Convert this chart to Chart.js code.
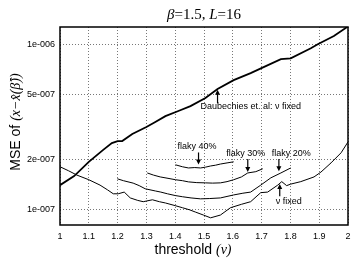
<!DOCTYPE html>
<html>
<head>
<meta charset="utf-8">
<script src="https://cdn.jsdelivr.net/npm/chart.js@4/dist/chart.umd.min.js"></script>
<style>
  html, body { margin: 0; padding: 0; background: #fff; }
  #wrap { width: 358px; height: 258px; }
</style>
</head>
<body>
<div id="wrap"><canvas id="mseChart" width="358" height="258"></canvas></div>
<script>
// threshold values and MSE
const daubX = [1.0, 1.049, 1.10, 1.15, 1.18, 1.20, 1.216, 1.251, 1.30, 1.331, 1.366, 1.411, 1.453, 1.505, 1.547, 1.603, 1.662, 1.707, 1.767, 1.801, 1.871, 1.895, 1.951, 2.0];
const daubY = [1.41e-7, 1.60e-7, 1.95e-7, 2.30e-7, 2.53e-7, 2.60e-7, 2.60e-7, 2.87e-7, 3.16e-7, 3.39e-7, 3.68e-7, 3.95e-7, 4.23e-7, 4.73e-7, 5.36e-7, 6.07e-7, 6.69e-7, 7.27e-7, 8.12e-7, 8.22e-7, 9.45e-7, 1.0e-6, 1.12e-6, 1.28e-6];

const fixedX = [1.0, 1.03, 1.059, 1.10, 1.139, 1.165, 1.185, 1.202, 1.223, 1.244, 1.27, 1.289, 1.321, 1.345, 1.366, 1.40, 1.425, 1.45, 1.470, 1.498, 1.523, 1.557, 1.592, 1.63, 1.662, 1.697, 1.721, 1.756, 1.770, 1.787, 1.801, 1.836, 1.882, 1.906, 1.941, 1.976, 2.0];
const fixedY = [1.82e-7, 1.72e-7, 1.62e-7, 1.52e-7, 1.41e-7, 1.32e-7, 1.25e-7, 1.25e-7, 1.28e-7, 1.18e-7, 1.14e-7, 1.12e-7, 1.15e-7, 1.12e-7, 1.10e-7, 1.06e-7, 1.03e-7, 1.00e-7, 0.97e-7, 0.93e-7, 0.895e-7, 0.93e-7, 1.03e-7, 1.08e-7, 1.12e-7, 1.27e-7, 1.28e-7, 1.41e-7, 1.48e-7, 1.40e-7, 1.43e-7, 1.48e-7, 1.58e-7, 1.69e-7, 1.92e-7, 2.21e-7, 2.57e-7];

const flaky20X = [1.199, 1.22, 1.254, 1.275, 1.296, 1.331, 1.35, 1.373, 1.40, 1.425, 1.455, 1.488, 1.52, 1.557, 1.603, 1.635, 1.662, 1.697, 1.732, 1.767, 1.801];
const flaky20Y = [1.54e-7, 1.50e-7, 1.45e-7, 1.40e-7, 1.34e-7, 1.30e-7, 1.28e-7, 1.25e-7, 1.22e-7, 1.20e-7, 1.18e-7, 1.165e-7, 1.17e-7, 1.18e-7, 1.23e-7, 1.26e-7, 1.28e-7, 1.41e-7, 1.56e-7, 1.67e-7, 1.79e-7];

const flaky30X = [1.303, 1.325, 1.348, 1.375, 1.401, 1.425, 1.446, 1.475, 1.505, 1.53, 1.557, 1.58, 1.603, 1.63, 1.652, 1.68, 1.704];
const flaky30Y = [1.67e-7, 1.62e-7, 1.58e-7, 1.55e-7, 1.52e-7, 1.50e-7, 1.475e-7, 1.46e-7, 1.455e-7, 1.45e-7, 1.455e-7, 1.48e-7, 1.52e-7, 1.58e-7, 1.67e-7, 1.70e-7, 1.77e-7];

const flaky40X = [1.401, 1.425, 1.446, 1.468, 1.488, 1.505, 1.523, 1.54, 1.557, 1.58, 1.603];
const flaky40Y = [1.87e-7, 1.82e-7, 1.79e-7, 1.80e-7, 1.79e-7, 1.81e-7, 1.84e-7, 1.86e-7, 1.89e-7, 1.92e-7, 1.95e-7];

const yTickVals = [1e-7, 2e-7, 5e-7, 1e-6];
const yTickText = ['1e-007', '2e-007', '5e-007', '1e-006'];

// labels with arrows: [text, textX, textY, arrowX, tailY, tipY]
const notes = [
  ['Daubechies et. al: \u03bd fixed', 1.488, 4.05e-7, 1.547, 4.40e-7, 5.30e-7],
  ['flaky 40%', 1.476, 2.33e-7, 1.481, 2.22e-7, 1.88e-7],
  ['flaky 30%', 1.645, 2.12e-7, 1.652, 2.03e-7, 1.69e-7],
  ['flaky 20%', 1.803, 2.12e-7, 1.760, 2.03e-7, 1.71e-7],
  ['\u03bd fixed', 1.794, 1.08e-7, 1.763, 1.21e-7, 1.43e-7]
];

function pts(xs, ys) {
  return xs.map((x, i) => ({ x: x, y: ys[i] }));
}

function line(data, w) {
  return {
    data: data,
    borderColor: '#000',
    borderWidth: w,
    pointRadius: 0,
    tension: 0,
    fill: false
  };
}

const extras = {
  id: 'extras',
  afterDraw(chart) {
    const ctx = chart.ctx;
    const a = chart.chartArea;
    const xs = chart.scales.x, ys = chart.scales.y;
    ctx.save();
    // frame
    ctx.strokeStyle = '#000';
    ctx.lineWidth = 1.5;
    ctx.strokeRect(a.left, a.top, a.right - a.left, a.bottom - a.top);

    // title
    ctx.fillStyle = '#000';
    ctx.textBaseline = 'alphabetic';
    ctx.textAlign = 'left';
    const parts = [['italic 15px "Liberation Serif"', '\u03b2'], ['15px "Liberation Serif"', '=1.5, '], ['italic 15px "Liberation Serif"', 'L'], ['15px "Liberation Serif"', '=16']];
    let tw = 0;
    parts.forEach(p => { ctx.font = p[0]; tw += ctx.measureText(p[1]).width; });
    let tx = 204 - tw / 2;
    parts.forEach(p => { ctx.font = p[0]; ctx.fillText(p[1], tx, 19); tx += ctx.measureText(p[1]).width; });

    // x axis title
    ctx.textAlign = 'left';
    const xt1 = 'threshold ';
    ctx.font = '14px "Liberation Sans"';
    const w1 = ctx.measureText(xt1).width;
    ctx.font = 'italic 14px "Liberation Serif"';
    const w2 = ctx.measureText('(\u03bd)').width;
    let x0 = 193 - (w1 + w2) / 2;
    ctx.font = '14px "Liberation Sans"';
    ctx.fillText(xt1, x0, 254);
    ctx.font = 'italic 14px "Liberation Serif"';
    ctx.fillText('(\u03bd)', x0 + w1, 254);

    // y axis title
    ctx.save();
    ctx.translate(20, 122);
    ctx.rotate(-Math.PI / 2);
    ctx.font = '14px "Liberation Sans"';
    const y1 = 'MSE of ';
    const yw1 = ctx.measureText(y1).width;
    ctx.font = 'italic 14px "Liberation Serif"';
    const y2 = '(x\u2212x\u0302(\u03b2\u0302))';
    const yw2 = ctx.measureText(y2).width;
    let sx = -(yw1 + yw2) / 2;
    ctx.font = '14px "Liberation Sans"';
    ctx.fillText(y1, sx, 0);
    ctx.font = 'italic 14px "Liberation Serif"';
    ctx.fillText(y2, sx + yw1, 0);
    ctx.restore();

    // annotations
    ctx.font = '9px "Liberation Sans"';
    ctx.lineWidth = 1.2;
    notes.forEach((n, i) => {
      const px = xs.getPixelForValue(n[1]);
      const py = ys.getPixelForValue(n[2]);
      ctx.textAlign = i === 0 ? 'left' : 'center';
      ctx.fillText(n[0], px, py);
      const ax = xs.getPixelForValue(n[3]);
      const t0 = ys.getPixelForValue(n[4]);
      const t1 = ys.getPixelForValue(n[5]);
      const dir = t1 > t0 ? 1 : -1;
      ctx.beginPath();
      ctx.moveTo(ax, t0);
      ctx.lineTo(ax, t1 - dir * 3);
      ctx.stroke();
      ctx.beginPath();
      ctx.moveTo(ax, t1);
      ctx.lineTo(ax - 2.5, t1 - dir * 5);
      ctx.lineTo(ax + 2.5, t1 - dir * 5);
      ctx.closePath();
      ctx.fill();
    });
    ctx.restore();
  }
};

new Chart(document.getElementById('mseChart'), {
  type: 'line',
  data: {
    datasets: [
      line(pts(daubX, daubY), 1.8),
      line(pts(fixedX, fixedY), 1),
      line(pts(flaky20X, flaky20Y), 1),
      line(pts(flaky30X, flaky30Y), 1),
      line(pts(flaky40X, flaky40Y), 1)
    ]
  },
  options: {
    responsive: false,
    animation: false,
    layout: { padding: { top: 27, right: 10, left: 0, bottom: 0 } },
    plugins: { legend: { display: false }, title: { display: false }, tooltip: { enabled: false } },
    scales: {
      x: {
        type: 'linear',
        min: 1,
        max: 2,
        ticks: {
          stepSize: 0.1,
          color: '#000',
          font: { family: 'Liberation Sans', size: 9 },
          padding: 6,
          maxRotation: 0,
          callback: v => String(+v.toFixed(1))
        },
        grid: { color: '#777', lineWidth: 1, drawTicks: false },
        border: { display: false, dash: [1, 2] },
        afterFit: s => { s.height = 33; }
      },
      y: {
        type: 'logarithmic',
        min: 8.1e-8,
        max: 1.27e-6,
        afterBuildTicks: s => { s.ticks = yTickVals.map(v => ({ value: v })); },
        ticks: {
          color: '#000',
          font: { family: 'Liberation Sans', size: 9 },
          padding: 5,
          autoSkip: false,
          callback: (v) => yTickText[yTickVals.indexOf(v)] || ''
        },
        grid: { color: '#777', lineWidth: 1, drawTicks: false },
        border: { display: false, dash: [1, 2] },
        afterFit: s => { s.width = 60; }
      }
    }
  },
  plugins: [extras]
});
</script>
</body>
</html>
